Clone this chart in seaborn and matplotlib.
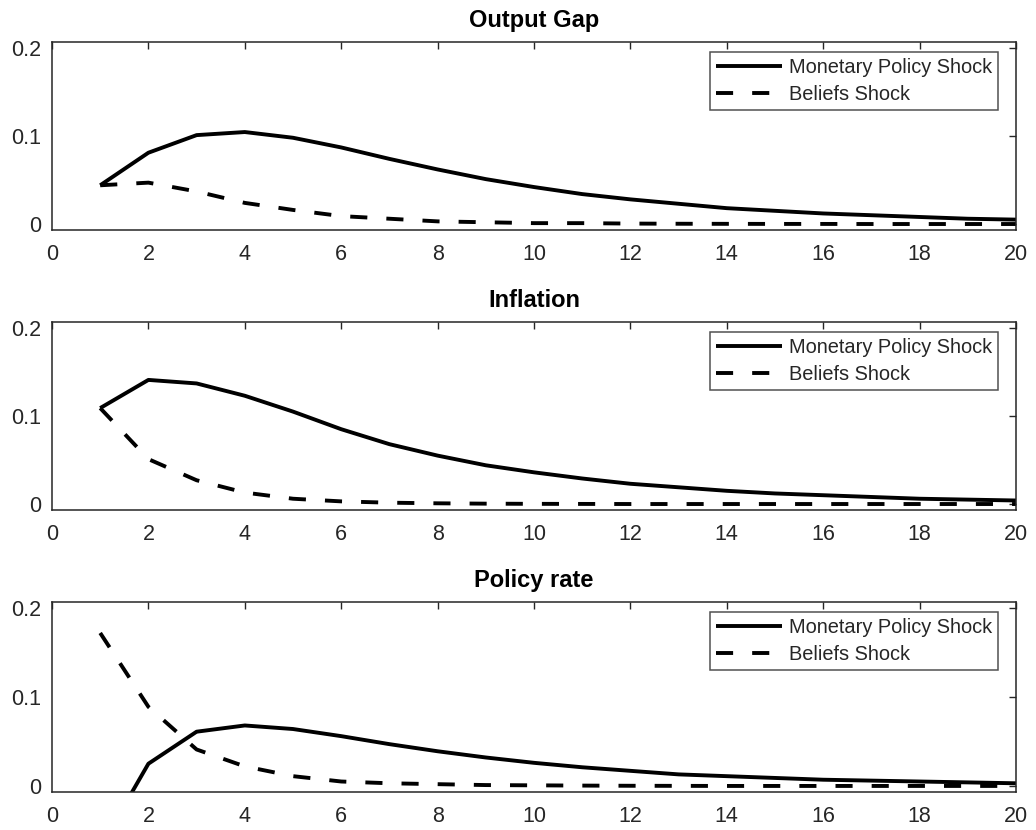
import numpy as np
import pandas as pd
import matplotlib
matplotlib.use("Agg")
import matplotlib.pyplot as plt
import seaborn as sns

sns.set_style("white")
plt.rcParams['font.family'] = ['Liberation Sans', 'DejaVu Sans']

periods = list(range(1, 21))
series_names = ["Monetary Policy Shock", "Beliefs Shock"]
titles = ["Output Gap", "Inflation", "Policy rate"]

output_mp = [0.044, 0.081, 0.101, 0.1045, 0.098, 0.087, 0.074, 0.062, 0.051, 0.042,
             0.034, 0.028, 0.023, 0.018, 0.015, 0.012, 0.010, 0.008, 0.006, 0.005]
output_bel = [0.044, 0.047, 0.037, 0.024, 0.016, 0.009, 0.006, 0.003, 0.002, 0.001,
              0.001, 0.0005, 0.0003, 0.0002, 0.0001, 0.0001, 0.0, 0.0, 0.0, 0.0]
infl_mp = [0.109, 0.141, 0.137, 0.123, 0.105, 0.085, 0.068, 0.055, 0.044, 0.036,
           0.029, 0.023, 0.019, 0.015, 0.012, 0.010, 0.008, 0.006, 0.005, 0.004]
infl_bel = [0.109, 0.051, 0.027, 0.013, 0.006, 0.003, 0.0015, 0.0008, 0.0004, 0.0002,
            0.0001, 0.0, 0.0, 0.0, 0.0, 0.0, 0.0, 0.0, 0.0, 0.0]
rate_mp = [-0.069, 0.025, 0.061, 0.068, 0.064, 0.056, 0.047, 0.039, 0.032, 0.026,
           0.021, 0.017, 0.013, 0.011, 0.009, 0.007, 0.006, 0.005, 0.004, 0.003]
rate_bel = [0.172, 0.089, 0.041, 0.022, 0.011, 0.005, 0.003, 0.002, 0.001, 0.0007,
            0.0004, 0.0002, 0.0001, 0.0, 0.0, 0.0, 0.0, 0.0, 0.0, 0.0]

panels = [(output_mp, output_bel), (infl_mp, infl_bel), (rate_mp, rate_bel)]

x_ticks = list(range(0, 21, 2))
y_ticks = [0, 0.1, 0.2]
y_tick_labels = ["0", "0.1", "0.2"]

fig = plt.figure(figsize=(10.36, 8.30), dpi=100)
W, H = 1036, 830
left_px, right_px = 52, 1016
boxes = [(42, 230), (322, 510), (602, 792)]
axis_gray = "#262626"

for (top, bottom), title, (mp, bel) in zip(boxes, titles, panels):
    ax = fig.add_axes([left_px / W, 1 - bottom / H, (right_px - left_px) / W, (bottom - top) / H])
    df = pd.DataFrame({
        "t": periods * 2,
        "value": mp + bel,
        "series": [series_names[0]] * len(periods) + [series_names[1]] * len(periods),
    })
    sns.lineplot(data=df, x="t", y="value", hue="series", style="series",
                 palette=["black", "black"], dashes=[(1, 0), (4.4, 4.9)],
                 linewidth=2.8, ax=ax, legend=True)
    ax.set_xlim(0, 20)
    ax.set_ylim(-0.0068, 0.2068)
    ax.set_xticks(x_ticks)
    ax.set_yticks(y_ticks)
    ax.set_yticklabels(y_tick_labels)
    ax.set_xlabel("")
    ax.set_ylabel("")
    ax.set_title(title, fontsize=17, fontweight="bold", pad=10.5, color="black")
    ax.tick_params(direction="in", length=5, width=1, top=True, right=True,
                   labelsize=15.5, colors=axis_gray)
    ax.tick_params(axis="x", pad=10)
    ax.tick_params(axis="y", pad=7.5)
    for sp in ax.spines.values():
        sp.set_color(axis_gray)
        sp.set_linewidth(1.1)
        sp.set_visible(True)
    leg = ax.legend(loc="upper right",
                    bbox_to_anchor=((998 - left_px) / (right_px - left_px),
                                    (bottom - 52 - (top - 42)) / (bottom - top)),
                    borderaxespad=0, fontsize=14.4, handlelength=3.3,
                    fancybox=False, frameon=True, labelspacing=0.4,
                    borderpad=0.3, handletextpad=0.35)
    leg.get_frame().set_edgecolor(axis_gray)
    leg.get_frame().set_linewidth(1.1)
    for txt in leg.get_texts():
        txt.set_color(axis_gray)

fig.savefig("out.png", dpi=100, facecolor="white")
